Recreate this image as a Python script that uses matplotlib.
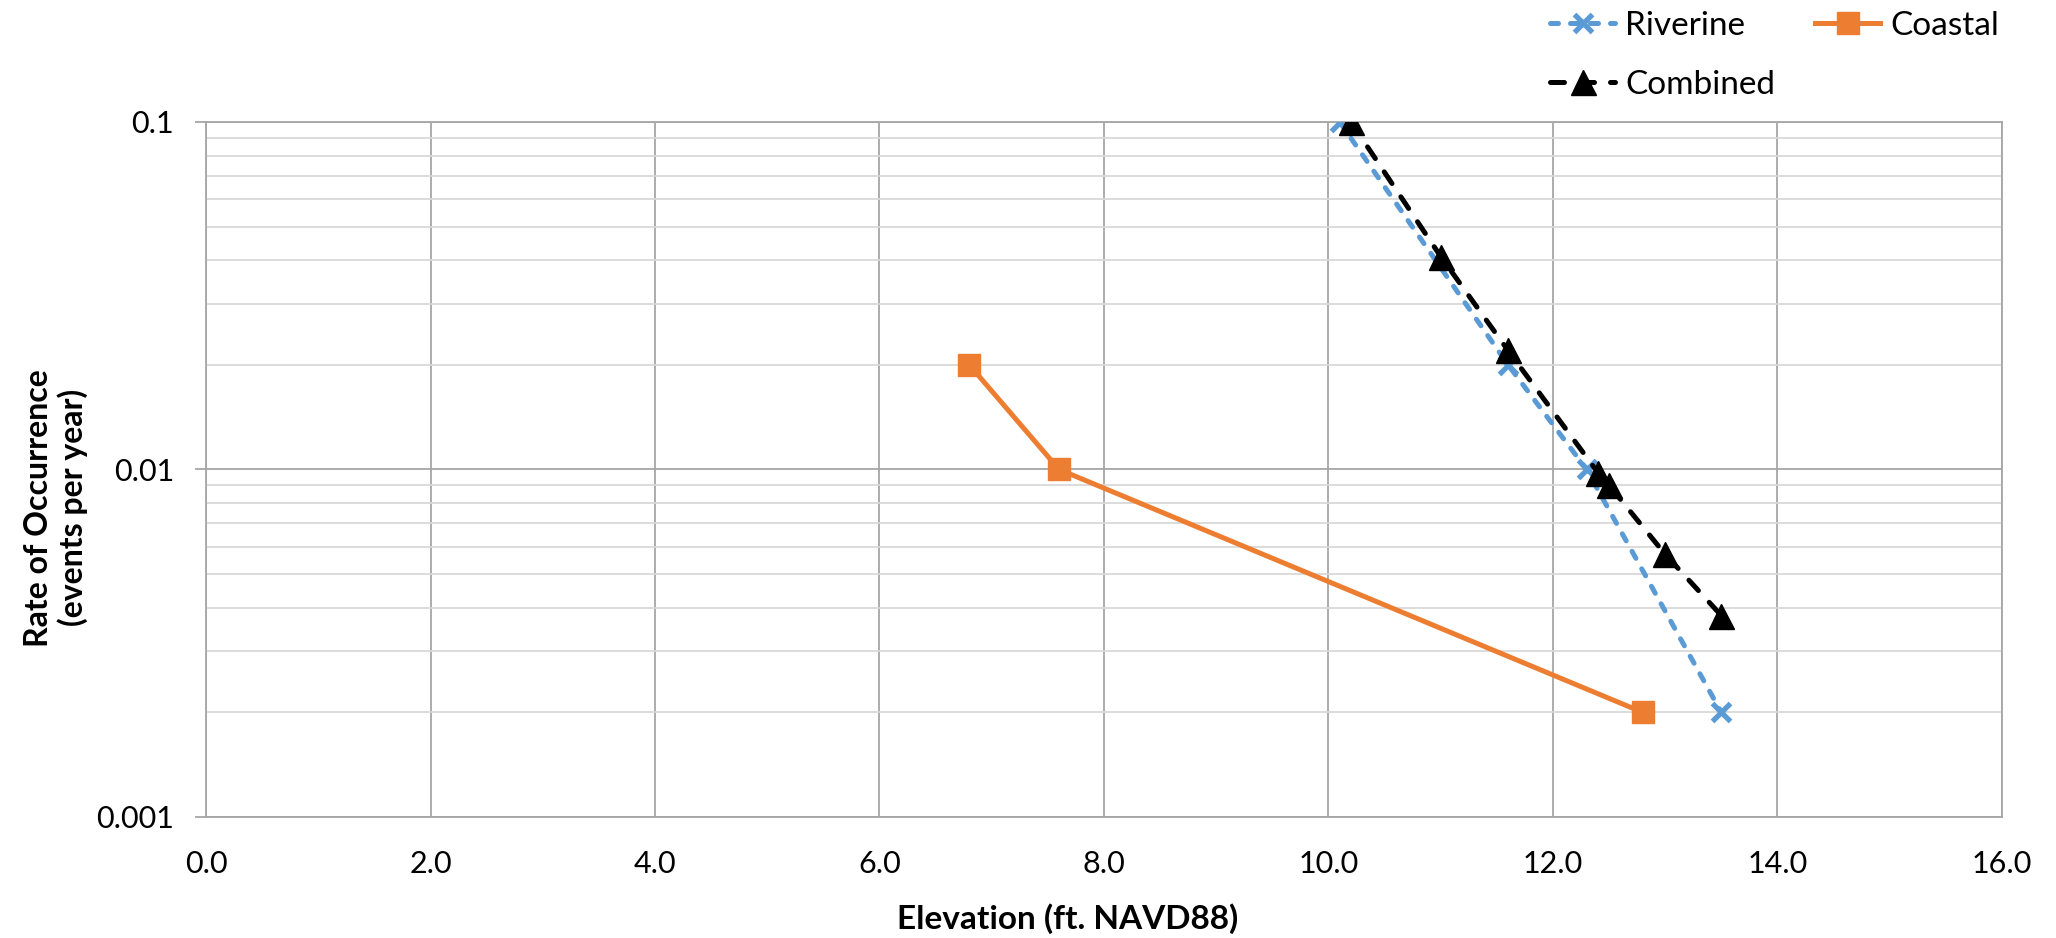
import matplotlib
matplotlib.use("Agg")
import matplotlib.pyplot as plt
from matplotlib.ticker import FixedLocator, FixedFormatter, LogLocator, NullFormatter

# Data
riverine_x = [10.1, 11.6, 12.3, 13.5]
riverine_y = [0.1, 0.02, 0.01, 0.002]
coastal_x = [6.8, 7.6, 12.8]
coastal_y = [0.02, 0.01, 0.002]
combined_x = [10.2, 11.0, 11.6, 12.4, 12.5, 13.0, 13.5]
combined_y = [0.1, 0.041, 0.022, 0.0098, 0.009, 0.0057, 0.0038]
x_ticks = [0, 2, 4, 6, 8, 10, 12, 14, 16]
x_labels = ["0.0", "2.0", "4.0", "6.0", "8.0", "10.0", "12.0", "14.0", "16.0"]
y_ticks = [0.001, 0.01, 0.1]
y_labels = ["0.001", "0.01", "0.1"]

plt.rcParams['font.family'] = ['Lato', 'DejaVu Sans']

fig = plt.figure(figsize=(20.56, 9.38), dpi=100)
ax = fig.add_axes([0.1002, 0.129, 0.8735, 0.741])

l1, = ax.plot(riverine_x, riverine_y, color='#5B9BD5', lw=3.6, marker='x', ms=13, mew=3.8,
              dashes=(1.6, 2.4), dash_capstyle='round', label='Riverine', zorder=3)
l2, = ax.plot(coastal_x, coastal_y, color='#ED7D31', lw=3.6, marker='s', ms=16,
              label='Coastal', zorder=3)
l3, = ax.plot(combined_x, combined_y, color='black', lw=3.6, marker='^', ms=18,
              dashes=(2.8, 3.2), dash_capstyle='round', label='Combined', zorder=4)

ax.set_yscale('log')
ax.set_xlim(0, 16)
ax.set_ylim(0.001, 0.1)

ax.xaxis.set_major_locator(FixedLocator(x_ticks))
ax.xaxis.set_major_formatter(FixedFormatter(x_labels))
ax.yaxis.set_major_locator(FixedLocator(y_ticks))
ax.yaxis.set_major_formatter(FixedFormatter(y_labels))
ax.yaxis.set_minor_locator(LogLocator(base=10, subs=range(2, 10)))
ax.yaxis.set_minor_formatter(NullFormatter())

ax.grid(True, which='major', axis='both', color='#a6a6a6', lw=1.3)
ax.grid(True, which='minor', axis='y', color='#d9d9d9', lw=1.3)
ax.set_axisbelow(True)
for s in ax.spines.values():
    s.set_color('#a6a6a6')
    s.set_linewidth(1.3)

ax.tick_params(axis='x', length=0, pad=24, labelsize=22)
ax.tick_params(axis='y', which='major', length=8, color='#a6a6a6', width=1.3, pad=15, labelsize=22)
ax.tick_params(axis='y', which='minor', length=0)

ax.set_xlabel('Elevation (ft. NAVD88)', fontsize=24, fontweight='bold')
ax.xaxis.set_label_coords(0.4797, -0.1468)
ax.xaxis.label.set_va('center')
ax.set_ylabel('Rate of Occurrence\n(events per year)', fontsize=23, fontweight='bold',
              linespacing=1.15)
ax.yaxis.set_label_coords(-0.0835, 0.445)
ax.yaxis.label.set_va('center')

leg = fig.legend([l1, l3, l2], ['Riverine', 'Combined', 'Coastal'], ncol=2,
                 loc='upper left', bbox_to_anchor=(0.7539, 0.9885), frameon=False,
                 fontsize=24, handlelength=1.95, columnspacing=1.2, handletextpad=0.3,
                 labelspacing=0.88, borderpad=0, borderaxespad=0)

fig.savefig('out.png', dpi=100)
